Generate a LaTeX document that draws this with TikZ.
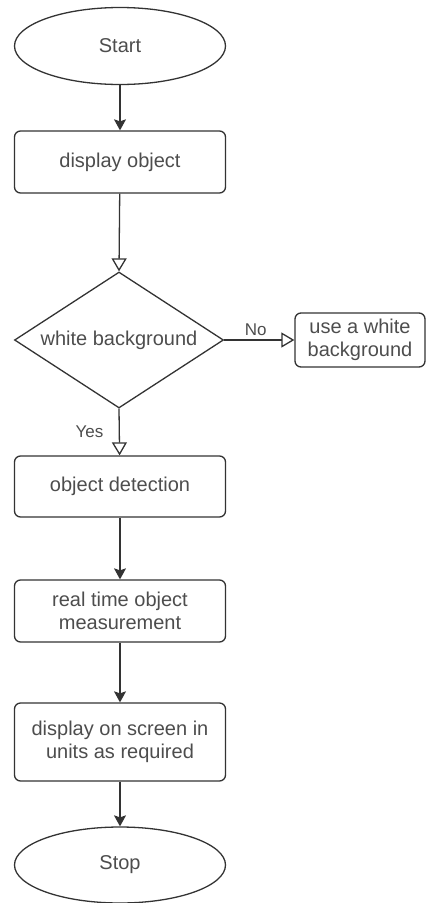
\documentclass[tikz,border=0pt]{standalone}
\usepackage{fontspec}
\setmainfont{Liberation Sans}
\usetikzlibrary{shapes.geometric,arrows.meta}
\definecolor{linegray}{HTML}{333333}
\definecolor{textgray}{HTML}{4D4D4D}
\begin{document}
\begin{tikzpicture}[x=1pt,y=-1pt,
    every node/.style={text=textgray,font=\fontsize{20}{23}\selectfont},
    term/.style={draw=linegray,line width=1.3pt,ellipse,minimum width=211pt,minimum height=77pt,inner sep=0pt},
    proc/.style={draw=linegray,line width=1.3pt,rounded corners=6pt,minimum width=211pt,minimum height=62pt,align=center,inner sep=0pt},
    decision/.style={draw=linegray,line width=1.3pt,diamond,aspect=1.6,minimum width=209pt,minimum height=136pt,inner sep=0pt},
    flow/.style={draw=linegray,line width=1.3pt,-{Stealth[length=11pt,width=12pt,inset=2pt]}},
    openflow/.style={draw=linegray,line width=1.3pt,-{Triangle[open,length=13pt,width=15pt]}},
    lbl/.style={font=\fontsize{17}{20}\selectfont}]
    \useasboundingbox (0,0) rectangle (427,903);
    \node[term] (start) at (120,46) {Start};
    \node[proc] (disp) at (120,162) {display object};
    \node[decision] (white) at (119,340) {white background};
    \node[proc,minimum width=130pt,minimum height=54pt] (usewb) at (360,340) {use a white\\background};
    \node[proc,minimum height=61pt] (detect) at (120,486.5) {object detection};
    \node[proc] (meas) at (120,611) {real time object\\measurement};
    \node[proc,minimum height=78pt] (show) at (120,742) {display on screen in\\units as required};
    \node[term,minimum height=76pt] (stop) at (120,865) {Stop};

    \draw[flow] (start) -- (disp);
    \draw[openflow] (disp) -- (white.north);
    \draw[openflow] (white.east) -- node[lbl,above,pos=0.45] {No} (usewb.west);
    \draw[openflow] (white.south) -- node[lbl,left,xshift=-12pt] {Yes} (detect);
    \draw[flow] (detect) -- (meas);
    \draw[flow] (meas) -- (show);
    \draw[flow] (show) -- (stop);
\end{tikzpicture}
\end{document}
